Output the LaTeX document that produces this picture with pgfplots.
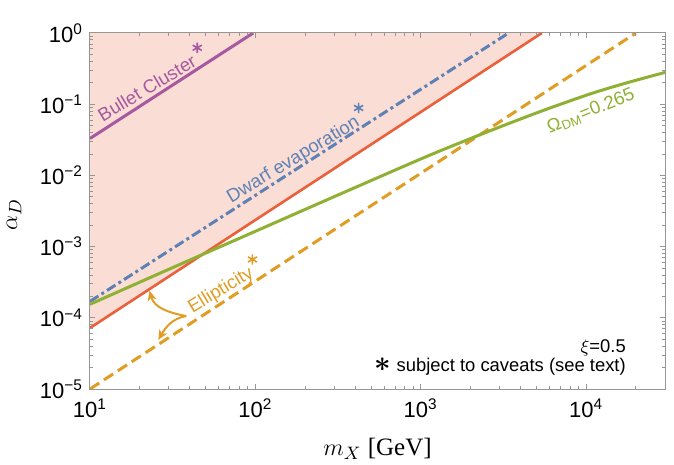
\documentclass[border=0pt]{standalone}
\usepackage{fontspec}
\setmainfont{Liberation Sans}
\newfontfamily\serif{Liberation Serif}
\usepackage{pgfplots}
\pgfplotsset{compat=1.18}
\usetikzlibrary{arrows.meta}

\definecolor{shade}{RGB}{250,221,212}
\definecolor{redl}{RGB}{234,96,58}
\definecolor{bluel}{RGB}{94,129,181}
\definecolor{orl}{RGB}{225,156,36}
\definecolor{grl}{RGB}{143,176,50}
\definecolor{purl}{RGB}{166,88,160}
\definecolor{framec}{RGB}{150,150,150}

\begin{document}
\begin{tikzpicture}
\begin{axis}[
  name=ax,
  xmode=log, ymode=log,
  scale only axis, width=287.5pt, height=178pt,
  xmin=10, xmax=30000, ymin=1e-5, ymax=1,
  axis on top=true,
  axis line style={framec, line width=0.5pt},
  major tick style={framec, line width=0.5pt},
  minor tick style={framec, line width=0.4pt},
  major tick length=2.5pt, minor tick length=1.4pt,
  xtick={10,100,1000,10000},
  xticklabels={10\textsuperscript{1},10\textsuperscript{2},10\textsuperscript{3},10\textsuperscript{4}},
  ytick={1e-5,1e-4,1e-3,1e-2,1e-1,1},
  yticklabels={10\textsuperscript{−5},10\textsuperscript{−4},10\textsuperscript{−3},10\textsuperscript{−2},10\textsuperscript{−1},10\textsuperscript{0}},
  minor xtick={20,30,40,50,60,70,80,90,200,300,400,500,600,700,800,900,2000,3000,4000,5000,6000,7000,8000,9000,20000,30000},
  minor ytick={2e-5,3e-5,4e-5,5e-5,6e-5,7e-5,8e-5,9e-5,2e-4,3e-4,4e-4,5e-4,6e-4,7e-4,8e-4,9e-4,2e-3,3e-3,4e-3,5e-3,6e-3,7e-3,8e-3,9e-3,2e-2,3e-2,4e-2,5e-2,6e-2,7e-2,8e-2,9e-2,0.2,0.3,0.4,0.5,0.6,0.7,0.8,0.9},
  ticklabel style={font=\fontsize{11}{13}\selectfont, black},
  xticklabel style={yshift=-1.2pt},
  xlabel={$m_X$ [GeV]},
  xlabel style={font=\fontsize{12.5}{14}\selectfont\serif, at={(axis description cs:0.5,0)}, anchor=base, yshift=-33pt},
  ylabel={$\alpha_D$},
  ylabel style={font=\fontsize{13}{14}\selectfont, at={(axis description cs:-0.132,0.49)}, anchor=center},
]
% excluded region (above the red line)
\addplot[fill=shade, draw=none, forget plot] coordinates {(10,7.2e-5) (5400,1) (10,1)};

% Bullet cluster
\addplot[purl, line width=1.5pt] coordinates {(10,0.033) (97,1)};
% Dwarf evaporation
\addplot[bluel, line width=1.5pt, dash pattern=on 5pt off 1.8pt on 1.5pt off 1.8pt] coordinates {(10,1.7e-4) (3400,1)};
% Ellipticity (solid)
\addplot[redl, line width=1.3pt] coordinates {(10,7.2e-5) (5400,1)};
% Ellipticity (dashed)
\addplot[orl, line width=1.5pt, dash pattern=on 5.5pt off 2.8pt] coordinates {(10,1e-5) (20000,1)};
% Relic abundance
\addplot[grl, line width=1.5pt, smooth] coordinates {
(10,1.55e-4) (31.62,5.07e-4) (100,1.64e-3) (316.2,5.31e-3) (1000,0.0170)
(1778,0.0295) (3162,0.0501) (5623,0.0832) (10000,0.1334) (13335,0.1650)
(17783,0.2007) (23714,0.2413) (30000,0.2793)};

% caveat stars
\addplot[only marks, purl, mark=asterisk, mark size=2.6pt, mark options={line width=0.8pt}] coordinates {(44.5,0.62)};
\addplot[only marks, bluel, mark=asterisk, mark size=2.6pt, mark options={line width=0.8pt}] coordinates {(421,0.0885)};
\addplot[only marks, orl, mark=asterisk, mark size=2.6pt, mark options={line width=0.8pt}] coordinates {(96,6.6e-4)};

% labels
\node[purl, rotate=31, font=\fontsize{9.3}{10}\selectfont] at (axis cs:22.1,0.169) {Bullet Cluster};
\node[bluel, rotate=31, font=\fontsize{9.3}{10}\selectfont] at (axis cs:170,0.0164) {Dwarf evaporation};
\node[grl, rotate=22, font=\fontsize{9.3}{10}\selectfont] at (axis cs:10700,0.080) {Ω\textsubscript{DM}=0.265};
\node[orl, rotate=31, font=\fontsize{9.3}{10}\selectfont] at (axis cs:62,2.4e-4) {Ellipticity};

\draw[orl, line width=1pt, -{Stealth[length=5pt,width=4.5pt,inset=1.5pt]}] (axis cs:38.2,1.06e-4) to[out=170, in=-75] (axis cs:22.9,2.4e-4);
\draw[orl, line width=1pt, -{Stealth[length=5pt,width=4.5pt,inset=1.5pt]}] (axis cs:38.2,1.06e-4) to[out=190, in=60] (axis cs:25.9,4.9e-5);

\node[anchor=base east, font=\fontsize{9.2}{10}\selectfont] at (rel axis cs:0.944,0.102) {$\xi$=0.5};
\node[anchor=base east, font=\fontsize{9.2}{10}\selectfont] at (rel axis cs:0.944,0.049) {{\fontsize{14}{14}\selectfont\boldmath$\ast$} subject to caveats (see text)};
\end{axis}
\pgfresetboundingbox
\path ([shift={(-45pt,-38pt)}]ax.south west) rectangle ([shift={(4.5pt,16.5pt)}]ax.north east);
\end{tikzpicture}
\end{document}
